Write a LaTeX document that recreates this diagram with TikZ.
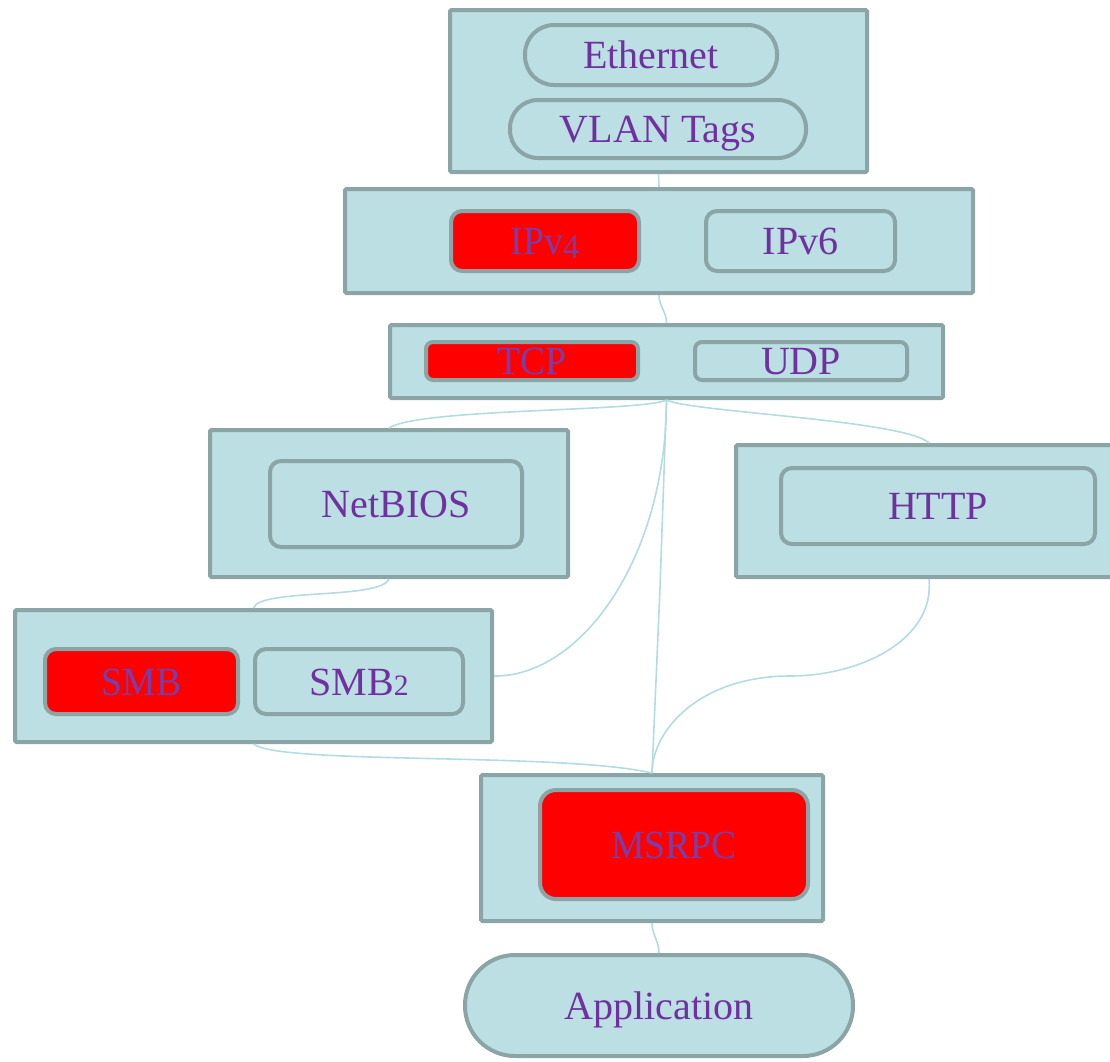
\documentclass[tikz,border=0pt]{standalone}
\usepackage{fontspec}
\usepackage{graphicx}
\setmainfont{Liberation Serif}
\definecolor{boxfill}{HTML}{BBDFE2}
\definecolor{boxline}{HTML}{8BA5A7}
\definecolor{labelpurple}{HTML}{7030A0}
\definecolor{hotlabel}{HTML}{7440B0}
\definecolor{hot}{HTML}{FF0000}
\definecolor{wire}{HTML}{B3DCE0}
\newcommand\lowfig[1]{\raisebox{-0.22ex}{\scalebox{0.86}{#1}}}
\newcommand\smallfig[1]{\scalebox{0.74}{#1}}
\newcommand\narrow[1]{\scalebox{0.94}[1]{#1}}
\tikzset{
  group/.style={draw=boxline, fill=boxfill, line width=4pt, rounded corners=1.5pt,
    inner sep=0pt, minimum width=#1},
  item/.style={draw=boxline, fill=boxfill, line width=4pt, rounded corners=11pt,
    inner sep=0pt, text=labelpurple, font=\fontsize{40}{44}\selectfont,
    text height=32pt, text depth=4.8pt},
  hotitem/.style={item, fill=hot, text=hotlabel},
  pill/.style={item, rounded corners=#1},
  wirestyle/.style={draw=wire, line width=1.6pt},
}
\begin{document}
\begin{tikzpicture}[x=1pt, y=-1pt]
\useasboundingbox (0,0) rectangle (1110,1061);
\begin{scope}
\clip (0,0) rectangle (1110,1061);

% layer containers
\node[group=417pt, minimum height=162pt] (eth)  at (658.5,91)   {};
\node[group=628pt, minimum height=104pt] (ip)   at (659,241)    {};
\node[group=553pt, minimum height=73pt]  (tcpg) at (666.5,361.5){};
\node[group=358pt, minimum height=147pt] (nbg)  at (389,503.5)  {};
\node[group=386pt, minimum height=132pt] (httpg) at (929,511)   {};
\node[group=477pt, minimum height=132pt] (smbg) at (253.5,676)  {};
\node[group=342pt, minimum height=146pt] (msg)  at (652,848)    {};

% protocols inside the containers
\node[pill=29pt, minimum width=252pt, minimum height=60pt] (ethernet) at (651,55) {Ethernet};
\node[pill=28pt, minimum width=296pt, minimum height=58pt] (vlan) at (658,129) {VLAN Tags};
\node[hotitem, minimum width=188pt, minimum height=60pt] (ipv4) at (545,241) {\narrow{IPv\lowfig{4}}};
\node[item, minimum width=189pt, minimum height=60pt] (ipv6) at (800.5,241) {IPv6};
\node[hotitem, rounded corners=7pt, minimum width=212pt, minimum height=38pt] (tcp) at (532,361) {\narrow{TCP}};
\node[item, rounded corners=7pt, minimum width=212pt, minimum height=38pt] (udp) at (801,361) {UDP};
\node[item, minimum width=252pt, minimum height=86pt] (netbios) at (396,504) {NetBIOS};
\node[item, minimum width=314pt, minimum height=76pt] (http) at (938,506) {HTTP};
\node[hotitem, minimum width=193pt, minimum height=65pt] (smb) at (141.5,681.5) {\narrow{SMB}};
\node[item, minimum width=208pt, minimum height=65pt] (smb2) at (359,681.5) {SMB\smallfig{2}};
\node[hotitem, rounded corners=16pt, minimum width=268pt, minimum height=109pt] (msrpc) at (674,844.5) {\narrow{MSRPC}};
\node[pill=50pt, minimum width=388pt, minimum height=101pt] (app) at (659,1005.5) {Application};

% connections between layers
\path[wirestyle] (eth.south) -- (ip.north);
\path[wirestyle] (ip.south) to[out=-90, in=90] (tcpg.north);
\path[wirestyle] (tcpg.south) .. controls (640,412) and (420,408) .. (nbg.north);
\path[wirestyle] (tcpg.south) .. controls (690,412) and (905,420) .. (httpg.north);
\path[wirestyle] (tcpg.south) .. controls (666,560) and (580,677) .. (smbg.east);
\path[wirestyle] (tcpg.south) -- (660,588) -- (msg.north);
\path[wirestyle] (nbg.south) .. controls (380,600) and (260,588) .. (smbg.north);
\path[wirestyle] (httpg.south) .. controls (935,640) and (860,676) .. (790,676)
                 .. controls (700,676) and (652,730) .. (msg.north);
\path[wirestyle] (smbg.south) .. controls (280,765) and (560,752) .. (msg.north);
\path[wirestyle] (msg.south) to[out=-90, in=90] (app.north);
\end{scope}
\end{tikzpicture}
\end{document}
